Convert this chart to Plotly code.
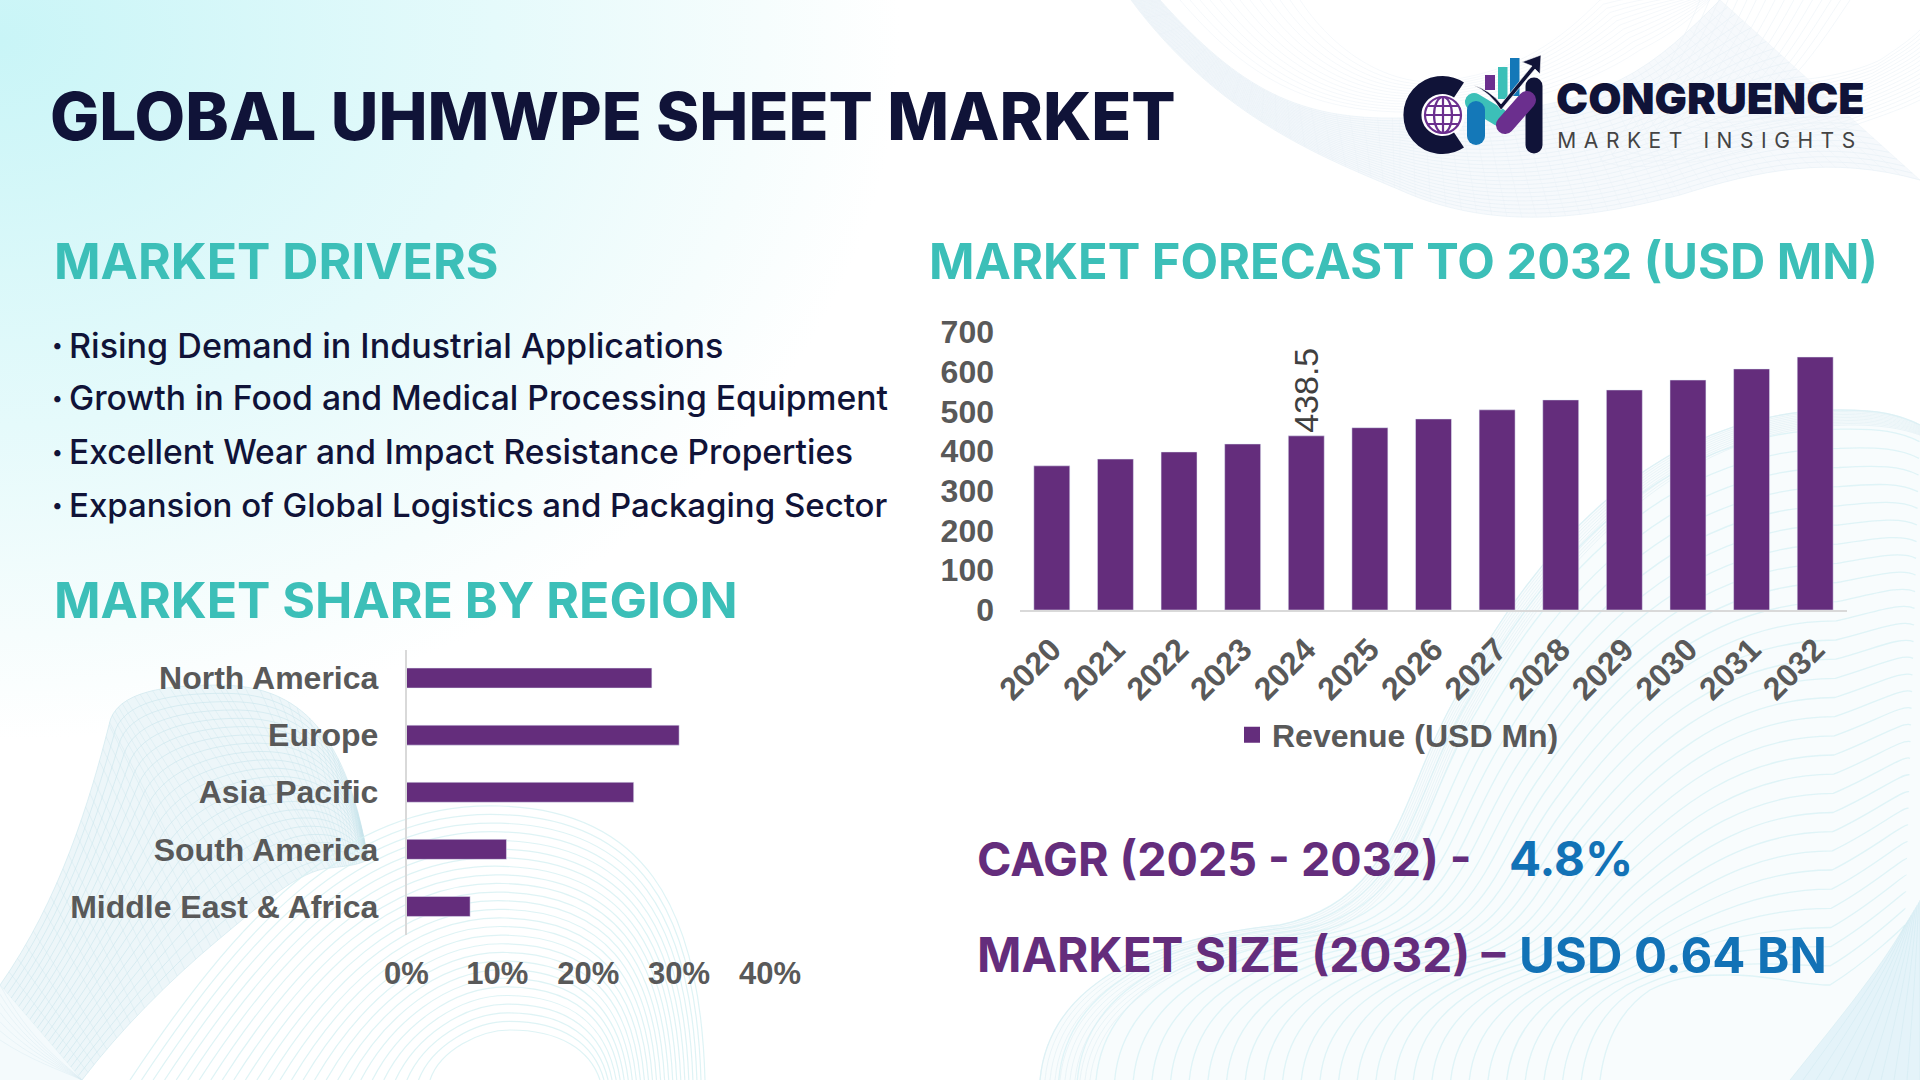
import base64

import numpy as np
import plotly.graph_objects as go

W, H = 1920, 1080

years = [str(y) for y in range(2020, 2033)]
revenue = [363, 380, 398, 418, 438.5, 459, 481, 504, 529, 554, 579, 607, 637]
revenue_labels = ["", "", "", "", "438.5", "", "", "", "", "", "", "", ""]
regions = ["North America", "Europe", "Asia Pacific", "South America", "Middle East & Africa"]
region_share = [27, 30, 25, 11, 7]
drivers = [
    "Rising Demand in Industrial Applications",
    "Growth in Food and Medical Processing Equipment",
    "Excellent Wear and Impact Resistance Properties",
    "Expansion of Global Logistics and Packaging Sector",
]

PURPLE = "#642d7c"
TEAL = "#3cbfb8"
NAVY = "#101338"
BLUE = "#1272b6"
GREY = "#595959"


def bez(chain, n=40):
    # sample a chain of cubic segments, chain = [p0, c1, c2, p1, c1, c2, p2, ...]
    pts = np.array(chain, dtype=float)
    out = []
    for i in range(0, len(pts) - 1, 3):
        p0, p1, p2, p3 = pts[i : i + 4]
        t = np.linspace(0, 1, n)[:, None]
        out.append((1 - t) ** 3 * p0 + 3 * (1 - t) ** 2 * t * p1 + 3 * (1 - t) * t**2 * p2 + t**3 * p3)
    return np.vstack(out)


def chain_d(chain):
    c = [f"{x:.1f},{y:.1f}" for x, y in chain]
    d = "M" + c[0]
    for i in range(1, len(c), 3):
        d += " C" + " ".join(c[i : i + 3])
    return d


def family(a, b, n, color, sw=1.0, op=1.0):
    a, b = np.array(a, float), np.array(b, float)
    s = ""
    for k in range(n + 1):
        chain = a + (b - a) * k / n
        s += f'<path d="{chain_d(chain)}" fill="none" stroke="{color}" stroke-width="{sw}" opacity="{op}"/>'
    return s


def rungs(a, b, n, color, sw=0.8, op=1.0):
    pa, pb = bez(a), bez(b)
    s = ""
    for i in np.linspace(0, len(pa) - 1, n).astype(int):
        s += (
            f'<line x1="{pa[i][0]:.1f}" y1="{pa[i][1]:.1f}" x2="{pb[i][0]:.1f}" y2="{pb[i][1]:.1f}" '
            f'stroke="{color}" stroke-width="{sw}" opacity="{op}"/>'
        )
    return s


def ribbon(a, b, fill, op):
    d = chain_d(a) + " L" + chain_d(b[::-1])[1:] + " Z"
    return f'<path d="{d}" fill="{fill}" opacity="{op}" stroke="none"/>'


# ---- background decoration
svg = f'<svg xmlns="http://www.w3.org/2000/svg" width="{W}" height="{H}" viewBox="0 0 {W} {H}">'
svg += """<defs><radialGradient id="g" gradientUnits="userSpaceOnUse" cx="0" cy="0" r="1"
gradientTransform="translate(0 40) scale(900 700)">
<stop offset="0" stop-color="#c9f5f7"/><stop offset="0.55" stop-color="#e5fafb"/>
<stop offset="0.85" stop-color="#f6fdfd"/><stop offset="1" stop-color="#ffffff"/></radialGradient></defs>"""
svg += f'<rect width="{W}" height="{H}" fill="#ffffff"/><rect width="{W}" height="{H}" fill="url(#g)"/>'

# top right wave
tr_low = [(1131, 0), (1220, 120), (1330, 160), (1400, 190), (1500, 235), (1600, 215), (1680, 195), (1760, 170), (1830, 155), (1920, 180)]
tr_up = [(1160, 0), (1240, 90), (1300, 120), (1400, 118), (1480, 116), (1560, 110), (1620, 80), (1660, 60), (1690, 30), (1720, 0)]
svg += ribbon(tr_low, tr_up, "#f0f5fa", 0.6)
svg += family(tr_low, tr_up, 26, "#e6eff6", 0.9, 0.7)
svg += rungs(tr_low, tr_up, 60, "#e9f1f7", 0.7, 0.6)
tr_a = [(1300, 0), (1340, 60), (1400, 90), (1450, 80), (1520, 70), (1560, 40), (1600, 0), (1640, -10), (1680, -10), (1720, -10)]
tr_b = [(1180, 0), (1240, 70), (1300, 110), (1400, 112), (1500, 112), (1580, 90), (1640, 50), (1680, 30), (1700, 10), (1720, -10)]
svg += family(tr_a, tr_b, 12, "#edf3f8", 0.8, 0.7)
tr_c = [(1700, 0), (1680, 50), (1650, 100), (1600, 160), (1640, 180), (1760, 150), (1840, 130), (1870, 120), (1900, 110), (1920, 100)]
tr_d = [(1850, 0), (1830, 30), (1810, 60), (1790, 80), (1820, 80), (1860, 70), (1880, 60), (1895, 50), (1910, 40), (1920, 30)]
svg += family(tr_c, tr_d, 16, "#ecf3f7", 0.9, 0.7)

# bottom right shell
br_out = [(1040, 1080), (1050, 970), (1180, 935), (1280, 925), (1400, 900), (1400, 790), (1460, 690), (1530, 560), (1650, 410), (1840, 410), (1880, 410), (1900, 415), (1920, 425)]
br_in = [(1600, 1080), (1605, 1040), (1620, 1010), (1650, 990), (1680, 975), (1700, 975), (1730, 975), (1770, 975), (1800, 985), (1830, 985), (1870, 960), (1905, 925), (1905, 925)]
svg += f'<path d="{chain_d(br_out)} L1920,905 L1920,1080 Z" fill="#f2fafc" opacity="0.5"/>'
svg += family(br_out, br_in, 30, "#d8f1f5", 1.3, 0.8)
br_edge = [(1090, 1080), (1100, 990), (1210, 950), (1300, 940), (1420, 915), (1420, 800), (1480, 700), (1550, 575), (1670, 425), (1850, 425), (1880, 425), (1900, 428), (1920, 435)]
svg += family(br_out, br_edge, 10, "#dcedf3", 0.7, 0.8)
cr_a = [(1790, 1080), (1830, 1030), (1880, 970), (1905, 925)]
cr_b = [(1920, 1080), (1920, 1030), (1920, 970), (1920, 900)]
svg += ribbon(cr_a, cr_b, "#dcf0f6", 0.7)
svg += family(cr_a, cr_b, 10, "#cbe7ef", 0.7, 0.6)

# bottom left ribbon
bl_out = [(0, 985), (60, 900), (90, 800), (109, 725), (115, 690), (170, 685), (218, 685), (290, 685), (345, 720), (368, 860)]
bl_in = [(82, 1080), (120, 1030), (170, 980), (218, 940), (260, 905), (300, 870), (330, 868), (345, 866), (355, 866), (368, 860)]
svg += ribbon(bl_out, bl_in, "#dfeff4", 0.55)
svg += family(bl_out, bl_in, 22, "#c4e2ea", 0.8, 0.65)
svg += rungs(bl_out, bl_in, 55, "#cbe5ec", 0.7, 0.55)
bl_tail = [(0, 1040), (30, 1060), (60, 1070), (82, 1080)]
bl_tail2 = [(0, 985), (30, 1040), (60, 1060), (82, 1080)]
svg += '<path d="M0,985 L82,1080 L0,1080 Z" fill="#f1f9fb" opacity="0.8"/>'
svg += family(bl_tail, bl_tail2, 6, "#d5eaf0", 0.7, 0.6)

# bottom left shell
sh_out = [(130, 1080), (230, 930), (340, 800), (500, 806), (640, 810), (700, 900), (705, 1080)]
sh_in = [(430, 1080), (440, 1050), (480, 1030), (510, 1030), (560, 1030), (590, 1050), (600, 1080)]
svg += family(sh_out, sh_in, 26, "#d6f0f3", 1.2, 0.8)

# ---- logo
svg += '<g fill="none" stroke-linecap="round">'
svg += '<circle cx="1441" cy="115" r="24" fill="#ffffff" stroke="none"/>'
svg += f'<path d="M1459,90 A30,30 0 1 0 1459,140" stroke="{NAVY}" stroke-width="18" stroke-linecap="butt"/>'
svg += '<g stroke="#6b2f8e" stroke-width="2.2" stroke-linecap="butt"><circle cx="1443" cy="115" r="18"/>'
svg += '<ellipse cx="1443" cy="115" rx="9" ry="18"/><path d="M1443,97 V133 M1427,106 H1459 M1425,115 H1461 M1427,124 H1459"/></g>'
svg += f'<path d="M1534,86 V145" stroke="{NAVY}" stroke-width="17"/>'
svg += '<path d="M1499,117 L1474,102" stroke="#3cc0b8" stroke-width="18"/>'
svg += '<path d="M1476,110 V136" stroke="#1478b8" stroke-width="18"/>'
svg += '<path d="M1505,125 L1527,100" stroke="#6b2f8e" stroke-width="18"/>'
svg += '<rect x="1485" y="75" width="10" height="15" fill="#6b2f8e" stroke="none"/>'
svg += '<rect x="1498" y="67" width="9.5" height="32" fill="#3cc0b8" stroke="none"/>'
svg += '<rect x="1510" y="58" width="9.5" height="38" fill="#1478b8" stroke="none"/></g>'
svg += f'<path d="M1473,85 Q1490,90 1501,104 L1532,66 L1522,62 L1541,55 L1540,74 L1535,69 L1501,110 Q1490,92 1473,85 Z" fill="{NAVY}" stroke="#ffffff" stroke-width="0.6"/>'
svg += "</svg>"
bg_src = "data:image/svg+xml;base64," + base64.b64encode(svg.encode()).decode()


def xp(px):
    return px / W


def yp(px):
    return 1 - px / H


fig = go.Figure()

fig.add_trace(
    go.Bar(
        x=years,
        y=revenue,
        marker_color=PURPLE,
        text=revenue_labels,
        textposition="outside",
        textangle=-90,
        cliponaxis=False,
        constraintext="none",
        textfont=dict(family="Liberation Sans", size=34, color="#404040"),
        xaxis="x",
        yaxis="y",
        showlegend=False,
    )
)
fig.add_trace(
    go.Bar(
        x=region_share,
        y=regions,
        orientation="h",
        width=0.35,
        marker_color=PURPLE,
        xaxis="x2",
        yaxis="y2",
        showlegend=False,
    )
)
# legend key only: bar legend swatches are too small
fig.add_trace(
    go.Scatter(
        x=[None],
        y=[None],
        mode="markers",
        name="Revenue (USD Mn)",
        marker=dict(symbol="square", size=16, color=PURPLE),
        xaxis="x",
        yaxis="y",
    )
)

tick_font = dict(family="Liberation Sans", size=32, color=GREY, weight="bold")
pct_font = dict(family="Liberation Sans", size=31, color=GREY, weight="bold")

annotations = []


def note(text, x, y, size, color, weight=700, family="Inter", anchor="left"):
    annotations.append(
        dict(
            text=text,
            x=xp(x),
            y=yp(y),
            xref="paper",
            yref="paper",
            xanchor=anchor,
            yanchor="middle",
            showarrow=False,
            font=dict(family=family, size=size, color=color, weight=weight),
        )
    )


note("GLOBAL UHMWPE SHEET MARKET", 48, 116, 65.6, NAVY, 800)
note("MARKET DRIVERS", 52, 261, 50, TEAL)
note("MARKET FORECAST TO 2032 (USD MN)", 927, 261, 48.8, TEAL)
note("MARKET SHARE BY REGION", 52, 600, 50, TEAL)
for driver, yy, sz in zip(drivers, [345, 398, 452, 505], [34.1, 33.7, 33.5, 33]):
    note("•", 50, yy, 20, NAVY, 500)
    note(driver, 67, yy, sz, NAVY, 500)
note("CAGR (2025 - 2032) -", 975, 859, 46.6, PURPLE)
note("4.8%", 1507, 858, 47.5, BLUE)
note("MARKET SIZE (2032) –", 975, 955, 47.7, PURPLE)
note("USD 0.64 BN", 1517, 955, 49, BLUE)
note("CONGRUENCE", 1710, 98, 43, NAVY, 900, anchor="center")
note("MARKET INSIGHTS", 1710, 140, 21, "#444444", 400, anchor="center")

fig.update_layout(
    width=W,
    height=H,
    margin=dict(l=0, r=0, t=0, b=0, autoexpand=False),
    paper_bgcolor="white",
    plot_bgcolor="rgba(0,0,0,0)",
    bargap=0.435,
    images=[
        dict(
            source=bg_src,
            xref="paper",
            yref="paper",
            x=0,
            y=1,
            sizex=1,
            sizey=1,
            sizing="stretch",
            xanchor="left",
            yanchor="top",
            layer="below",
        )
    ],
    annotations=annotations,
    xaxis=dict(
        domain=[xp(1020), xp(1847)],
        anchor="y",
        type="category",
        tickangle=-45,
        tickfont=tick_font,
        showgrid=False,
        zeroline=False,
        showline=True,
        linecolor="#d9d9d9",
        linewidth=2,
        ticks="",
        ticklabelstandoff=6,
    ),
    yaxis=dict(
        domain=[yp(610), yp(332)],
        anchor="x",
        range=[0, 700],
        dtick=100,
        tickfont=tick_font,
        showgrid=False,
        zeroline=False,
        ticks="",
        ticklabelstandoff=25,
    ),
    xaxis2=dict(
        domain=[xp(406.5), xp(770)],
        anchor="y2",
        range=[0, 40],
        dtick=10,
        ticksuffix="%",
        tickfont=pct_font,
        showgrid=False,
        zeroline=False,
        ticks="",
        ticklabelstandoff=17,
    ),
    yaxis2=dict(
        domain=[yp(935), yp(649.5)],
        anchor="x2",
        autorange="reversed",
        type="category",
        tickfont=tick_font,
        showgrid=False,
        zeroline=False,
        showline=True,
        linecolor="#d9d9d9",
        linewidth=1.5,
        ticks="",
        ticklabelstandoff=20,
    ),
    showlegend=True,
    legend=dict(
        x=xp(1232),
        y=yp(735),
        xanchor="left",
        yanchor="middle",
        orientation="h",
        bgcolor="rgba(0,0,0,0)",
        font=tick_font,
    ),
)

# the page has a default body margin, and plotly fonts have no letter spacing option
post = """
document.body.style.margin = '0';
document.querySelectorAll('.annotation-text').forEach(function (t) {
  if (t.textContent === 'MARKET INSIGHTS') { t.style.letterSpacing = '0.36em'; }
});
"""
fig.write_html("out.html", post_script=post, config=dict(displayModeBar=False))
